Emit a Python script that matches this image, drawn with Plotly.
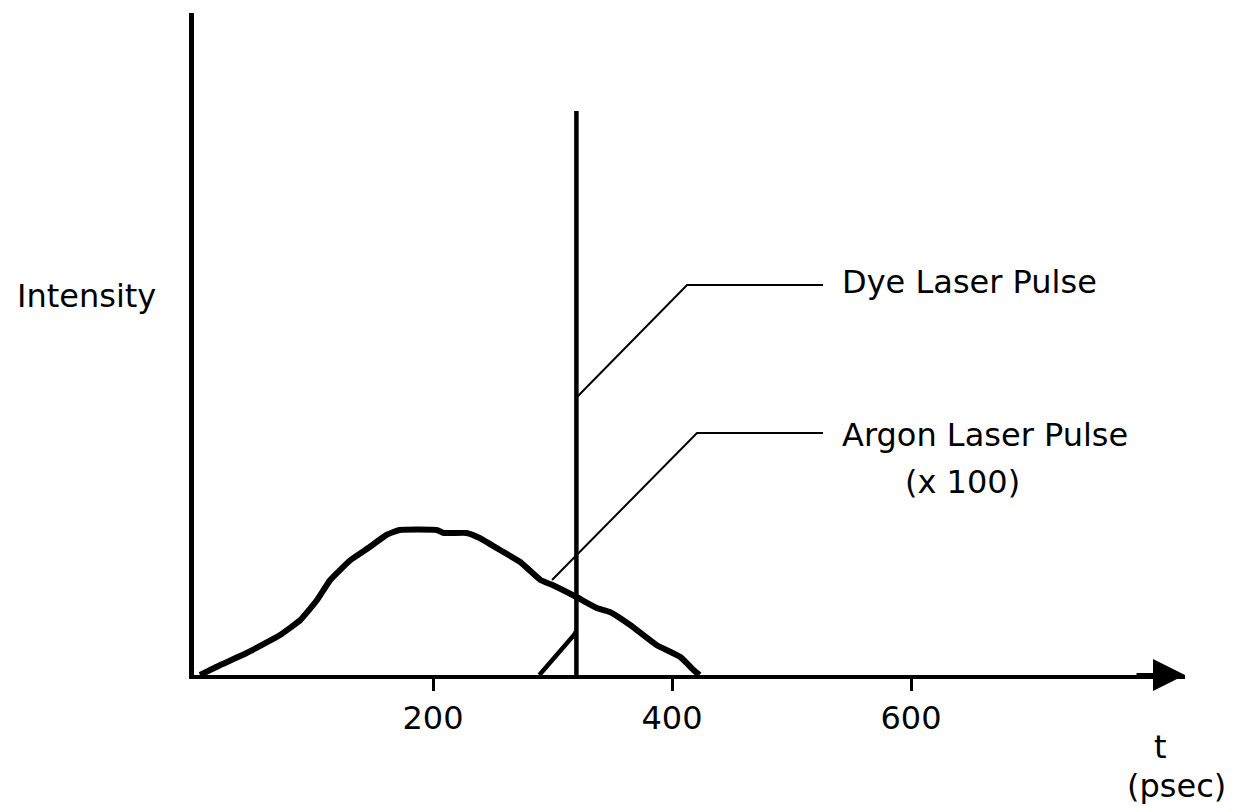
import plotly.graph_objects as go

# Argon laser pulse (x100), broad curve: time (psec) and intensity (arb.)
argon_t = [5, 22, 44, 72, 89, 103, 114, 131, 147, 161, 172, 203, 209, 228, 239,
           256, 273, 290, 300, 320, 337, 348, 365, 387, 407, 418, 423]
argon_i = [0, 10, 22, 40, 55, 75, 95, 115, 128, 140, 145, 145, 142, 142, 137,
           125, 113, 95, 90, 78, 67, 63, 50, 30, 18, 5, 0]

# Dye laser pulse: small base then narrow spike
dye_t = [289, 298, 307, 314, 318, 320, 320, 320]
dye_i = [0, 12, 25, 34, 40, 44, 564, 0]

tick_vals = [200, 400, 600]
tick_text = ["200", "400", "600"]

# leader lines (data coords)
dye_leader_t = [320.5, 412.6, 526.4]
dye_leader_i = [278, 390, 390]
argon_leader_t = [299.6, 420.9, 526.4]
argon_leader_i = [95, 242, 242]

W, H = 1244, 812
x0px, x1px = 194, 1185
y0px, y1px = 675, 13
pxper = 1.195
xmax = (x1px - x0px) / pxper
ymax = y0px - y1px

FONT = "DejaVu Sans"
FS = 32

fig = go.Figure()
fig.add_trace(go.Scatter(x=argon_t, y=argon_i, mode="lines",
                         line=dict(color="black", width=6, shape="spline", smoothing=0.4),
                         hoverinfo="skip", showlegend=False))
fig.add_trace(go.Scatter(x=dye_t, y=dye_i, mode="lines",
                         line=dict(color="black", width=4.5),
                         hoverinfo="skip", showlegend=False))
fig.add_trace(go.Scatter(x=dye_leader_t, y=dye_leader_i, mode="lines",
                         line=dict(color="black", width=2),
                         hoverinfo="skip", showlegend=False))
fig.add_trace(go.Scatter(x=argon_leader_t, y=argon_leader_i, mode="lines",
                         line=dict(color="black", width=2),
                         hoverinfo="skip", showlegend=False))

annotations = [
    dict(x=540.6, y=393, xref="x", yref="y", text="Dye Laser Pulse", showarrow=False,
         xanchor="left", yanchor="middle", font=dict(family=FONT, size=FS, color="black")),
    dict(x=540.6, y=240, xref="x", yref="y", text="Argon Laser Pulse", showarrow=False,
         xanchor="left", yanchor="middle", font=dict(family=FONT, size=FS, color="black")),
    dict(x=642.7, y=193, xref="x", yref="y", text="(x 100)", showarrow=False,
         xanchor="center", yanchor="middle", font=dict(family=FONT, size=FS, color="black")),
    dict(x=15 / W, y=1 - 296 / H, xref="paper", yref="paper", text="Intensity", showarrow=False,
         xanchor="left", yanchor="middle", font=dict(family=FONT, size=FS, color="black")),
    dict(x=1160 / W, y=1 - 747 / H, xref="paper", yref="paper", text="t", showarrow=False,
         xanchor="center", yanchor="middle", font=dict(family=FONT, size=FS, color="black")),
    dict(x=1176 / W, y=1 - 786 / H, xref="paper", yref="paper", text="(psec)", showarrow=False,
         xanchor="center", yanchor="middle", font=dict(family=FONT, size=FS, color="black")),
    # arrowhead at end of time axis
    dict(x=xmax, y=0, xref="x", yref="y", ax=-50, ay=0, axref="pixel", ayref="pixel",
         text="", showarrow=True, arrowhead=2, arrowsize=1.6, arrowwidth=4,
         arrowcolor="black"),
]

fig.update_layout(
    width=W, height=H,
    margin=dict(l=0, r=0, t=0, b=0),
    paper_bgcolor="white", plot_bgcolor="white",
    annotations=annotations,
    xaxis=dict(domain=[x0px / W, x1px / W], range=[0, xmax],
               showgrid=False, zeroline=False,
               showline=True, linecolor="black", linewidth=4,
               tickmode="array", tickvals=tick_vals, ticktext=tick_text,
               ticks="outside", ticklen=12, tickwidth=3, tickcolor="black",
               tickfont=dict(family=FONT, size=FS, color="black"),
               anchor="y"),
    yaxis=dict(domain=[1 - y0px / H, 1 - y1px / H], range=[0, ymax],
               showgrid=False, zeroline=False,
               showline=True, linecolor="black", linewidth=5,
               showticklabels=False, ticks="", anchor="x"),
)

fig.write_html("out.html")
